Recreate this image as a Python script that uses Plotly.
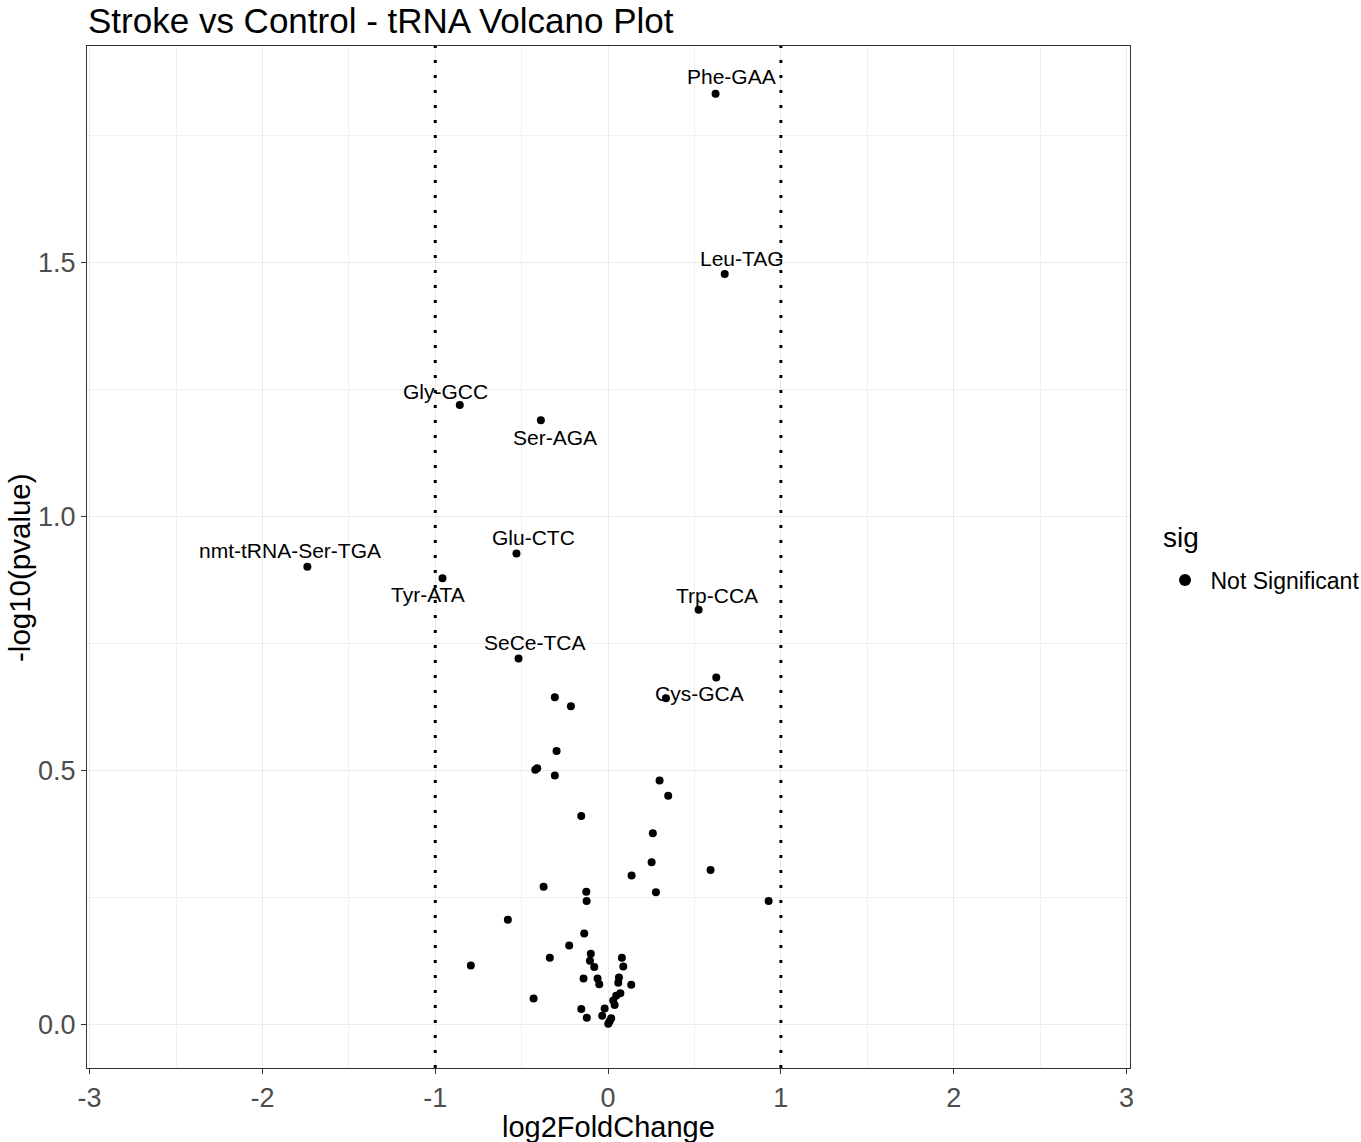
import plotly.graph_objects as go

# Labelled tRNAs
label_names = ["Phe-GAA", "Leu-TAG", "Gly-GCC", "Ser-AGA", "Glu-CTC",
               "nmt-tRNA-Ser-TGA", "Tyr-ATA", "Trp-CCA", "SeCe-TCA", "Cys-GCA"]
label_lfc = [0.622, 0.675, -0.858, -0.389, -0.530, -1.740, -0.958, 0.524, -0.518, 0.335]
label_p = [1.833, 1.478, 1.220, 1.190, 0.928, 0.902, 0.879, 0.817, 0.721, 0.643]
# label offsets in pixels (dx, dy up-positive)
label_dx = [16, 17, -14, 14, 17, -17, -15, 18, 16, 34]
label_dy = [17, 16, 14, -17, 16, 16, -16, 14, 16, 5]

# Unlabelled tRNAs
other_lfc = [0.626, -0.308, -0.215, -0.298, -0.421, -0.410, -0.308, 0.298, 0.348, -0.155,
             0.259, 0.252, 0.593, 0.136, 0.277, -0.373, -0.126, -0.124, 0.929, -0.580,
             -0.138, -0.225, -0.337, -0.100, -0.105, -0.080, -0.794, 0.080, 0.088, -0.142,
             -0.061, -0.051, 0.063, 0.059, 0.134, 0.071, 0.047, 0.030, 0.038, -0.431,
             -0.155, -0.123, -0.020, -0.034, 0.018, 0.009, 0.001]
other_p = [0.684, 0.645, 0.627, 0.539, 0.502, 0.505, 0.491, 0.481, 0.451, 0.411,
           0.377, 0.320, 0.305, 0.294, 0.261, 0.272, 0.262, 0.244, 0.244, 0.207,
           0.180, 0.156, 0.132, 0.140, 0.126, 0.114, 0.117, 0.132, 0.115, 0.091,
           0.091, 0.080, 0.093, 0.083, 0.079, 0.062, 0.057, 0.048, 0.039, 0.052,
           0.031, 0.014, 0.032, 0.018, 0.013, 0.007, 0.002]

thresholds = [-1, 1]
x_ticks = [-3, -2, -1, 0, 1, 2, 3]
y_ticks = [0.0, 0.5, 1.0, 1.5]

FONT = "Liberation Sans, Arial, sans-serif"
W, H = 1361, 1142
ML, MR, MT, MB = 87, 231, 46, 74
PW, PH = W - ML - MR, H - MT - MB


def px_to_paper_x(px):
    return (px - ML) / PW


def px_to_paper_y(py):
    return (H - MB - py) / PH


all_x = label_lfc + other_lfc
all_y = label_p + other_p

fig = go.Figure()
fig.add_trace(go.Scatter(
    x=all_x, y=all_y, mode="markers", name="Not Significant",
    marker=dict(color="black", size=8, line=dict(width=0)),
))

for t in thresholds:
    fig.add_shape(type="line", x0=t, x1=t, y0=0, y1=1, xref="x", yref="paper",
                  line=dict(color="black", width=3, dash="3px,12px"), layer="above")

for name, x, y, dx, dy in zip(label_names, label_lfc, label_p, label_dx, label_dy):
    fig.add_annotation(x=x, y=y, text=name, showarrow=False, xshift=dx, yshift=dy,
                       font=dict(family=FONT, size=21, color="black"))

# axis titles and legend title as annotations for exact placement
fig.add_annotation(text="log2FoldChange", xref="paper", yref="paper",
                   x=px_to_paper_x(608), y=px_to_paper_y(1127),
                   xanchor="center", yanchor="middle", showarrow=False,
                   font=dict(family=FONT, size=29, color="black"))
fig.add_annotation(text="-log10(pvalue)", xref="paper", yref="paper", textangle=-90,
                   x=px_to_paper_x(19), y=px_to_paper_y(568),
                   xanchor="center", yanchor="middle", showarrow=False,
                   font=dict(family=FONT, size=29.5, color="black"))
fig.add_annotation(text="sig", xref="paper", yref="paper",
                   x=px_to_paper_x(1161), y=px_to_paper_y(537),
                   xanchor="left", yanchor="middle", showarrow=False,
                   font=dict(family=FONT, size=28, color="black"))

fig.update_layout(
    width=W, height=H,
    margin=dict(l=ML, r=MR, t=MT, b=MB, autoexpand=False),
    paper_bgcolor="white", plot_bgcolor="white",
    font=dict(family=FONT, color="black"),
    title=dict(text="Stroke vs Control - tRNA Volcano Plot", x=88 / W, xref="container",
               xanchor="left", y=1 - 21 / H, yref="container", yanchor="middle",
               pad=dict(t=0, l=0, b=0, r=0),
               font=dict(family=FONT, size=35, color="black")),
    showlegend=True,
    legend=dict(font=dict(family=FONT, size=23, color="black"),
                x=px_to_paper_x(1159.5), xanchor="left",
                y=px_to_paper_y(580), yanchor="middle",
                bgcolor="rgba(0,0,0,0)", itemsizing="constant", itemwidth=41),
)

fig.update_xaxes(
    range=[-3.015, 3.02], tickvals=x_ticks, ticktext=[str(v) for v in x_ticks],
    automargin=False,
    showgrid=True, gridcolor="#EBEBEB", gridwidth=1.3,
    minor=dict(dtick=0.5, tick0=0, showgrid=True, gridcolor="#F0F0F0", gridwidth=1),
    zeroline=False, showline=True, linecolor="#333333", linewidth=1.3, mirror=True,
    ticks="outside", ticklen=5, tickcolor="#333333", tickwidth=1.3,
    tickfont=dict(family=FONT, size=27, color="#4D4D4D"),
)
fig.update_yaxes(
    range=[-0.085, 1.927], tickvals=y_ticks, ticktext=["0.0", "0.5", "1.0", "1.5"],
    automargin=False,
    showgrid=True, gridcolor="#EBEBEB", gridwidth=1.3,
    minor=dict(dtick=0.25, tick0=0, showgrid=True, gridcolor="#F0F0F0", gridwidth=1),
    zeroline=False, showline=True, linecolor="#333333", linewidth=1.3, mirror=True,
    ticks="outside", ticklen=5, tickcolor="#333333", tickwidth=1.3,
    tickfont=dict(family=FONT, size=27, color="#4D4D4D"),
)

fig.write_html(
    "out.html",
    config={"displayModeBar": False},
    post_script="document.body.style.margin='0';document.body.style.overflow='hidden';",
)
